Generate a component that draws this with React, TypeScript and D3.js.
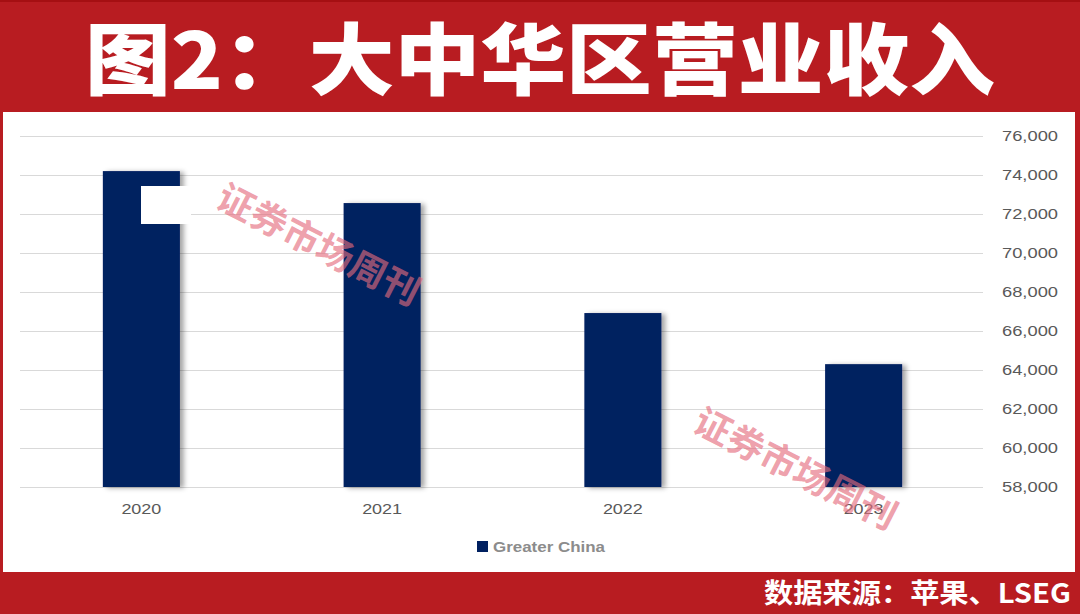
import * as d3 from "d3";
import { useEffect } from "react";

// chart data
const years = ["2020", "2021", "2022", "2023"];
const revenue = [74200, 72560, 66920, 64300];
const yTicks = [58000, 60000, 62000, 64000, 66000, 68000, 70000, 72000, 74000, 76000];
const seriesName = "Greater China";
const title = "图2：大中华区营业收入";
const source = "数据来源：苹果、LSEG";
const watermark = "证券市场周刊";

const W = 1080, H = 614;
const red = "#b81c21";
const navy = "#002060";

const App = () => {
    useEffect(() => {
        document.body.style.margin = "0";
    }, []);

    // plot area
    const margin = { top: 136, right: 96, bottom: 127, left: 21 };
    const xScale = d3.scaleBand()
        .domain(years)
        .range([margin.left, W - margin.right])
        .paddingInner(0.68)
        .paddingOuter(0.34);
    const yScale = d3.scaleLinear()
        .domain([58000, 76000])
        .range([H - margin.bottom, margin.top]);
    const fmt = d3.format(",");
    const data = years.map((y, i) => ({ year: y, value: revenue[i] }));

    // the source picture is stretched sideways, so the small labels are too
    const font = "'Liberation Sans', Arial, sans-serif";

    return (
        <svg width={W} height={H} style={{ display: "block", position: "absolute", left: 0, top: 0 }}>
            <defs>
                <filter id="barShadow" x="-10%" y="-5%" width="130%" height="110%">
                    <feDropShadow dx="4" dy="1" stdDeviation="2.5" floodColor="#000" floodOpacity="0.35" />
                </filter>
            </defs>
            {/* frame */}
            <rect x={0} y={0} width={W} height={H} fill={red} />
            <rect x={0} y={0} width={W} height={2} fill="#a50f12" />
            <rect x={3} y={112} width={W - 8} height={460} fill="#ffffff" />

            {/* title */}
            <text x={W / 2} y={89} textAnchor="middle" fill="#ffffff"
                fontFamily="'Noto Sans CJK SC', sans-serif" fontWeight={900} fontSize={78}
                textLength={910} lengthAdjust="spacingAndGlyphs">{title}</text>

            {/* grid */}
            {yTicks.map(t => (
                <line key={t} x1={20} x2={983} y1={yScale(t)} y2={yScale(t)}
                    stroke="#d9d9d9" strokeWidth={1} shapeRendering="crispEdges" />
            ))}
            {/* y axis labels (right) */}
            {yTicks.map(t => (
                <text key={"l" + t} x={1058} y={yScale(t)} dy="0.35em" textAnchor="end"
                    fill="#595959" fontFamily={font} fontSize={14}
                    textLength={56} lengthAdjust="spacingAndGlyphs">{fmt(t)}</text>
            ))}

            {/* bars */}
            {data.map(d => (
                <rect key={d.year} x={xScale(d.year)} y={yScale(d.value)}
                    width={xScale.bandwidth()} height={yScale(58000) - yScale(d.value)}
                    fill={navy} filter="url(#barShadow)" />
            ))}
            {/* white patch over first bar */}
            <rect x={141} y={186} width={50} height={38} fill="#ffffff" />

            {/* x labels */}
            {years.map(y => (
                <text key={"x" + y} x={xScale(y) + xScale.bandwidth() / 2} y={514} textAnchor="middle"
                    fill="#595959" fontFamily={font} fontSize={14}
                    textLength={40} lengthAdjust="spacingAndGlyphs">{y}</text>
            ))}

            {/* legend */}
            <rect x={477} y={541} width={11} height={11} fill={navy} />
            <text x={493} y={552} fill="#8c8c8c" fontFamily={font}
                fontSize={14} fontWeight="bold" textLength={112} lengthAdjust="spacingAndGlyphs">{seriesName}</text>

            {/* watermarks */}
            {[[320, 242], [797, 466]].map(([cx, cy], i) => (
                <text key={"w" + i} transform={`translate(${cx},${cy}) rotate(27)`} textAnchor="middle"
                    dominantBaseline="central" fill="#e56b7c" fillOpacity={0.65}
                    fontFamily="'Noto Sans CJK SC', serif" fontWeight={700} fontSize={36} textLength={222}
                    lengthAdjust="spacingAndGlyphs">{watermark}</text>
            ))}

            {/* source */}
            <rect x={0} y={572} width={W} height={42} fill={red} />
            <text x={1071} y={603} textAnchor="end" fill="#ffffff"
                fontFamily="'Noto Sans CJK SC', sans-serif" fontWeight={700} fontSize={27}
                textLength={307} lengthAdjust="spacingAndGlyphs">{source}</text>
        </svg>
    );
};

export default App;
